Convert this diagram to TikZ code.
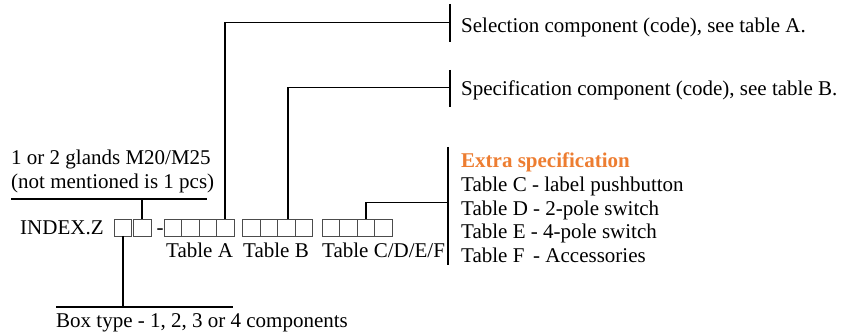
\documentclass[tikz,border=0pt]{standalone}
\usepackage{fontspec}
\setmainfont{Liberation Serif}
\definecolor{extraorange}{RGB}{237,125,49}
\begin{document}
\begin{tikzpicture}[x=1pt,y=-1pt,
  cell/.style={draw=black!70,line width=0.9pt,minimum width=17.5pt,minimum height=17pt,inner sep=0pt,outer sep=0pt},
  leader/.style={line width=1.6pt},
  rulel/.style={line width=1.4pt},
  lbl/.style={anchor=base west,inner sep=0pt,font=\fontsize{21}{23.6}\selectfont},
  title/.style={lbl,font=\fontsize{21}{23.6}\selectfont\bfseries,text=extraorange},
]
\useasboundingbox (0,0) rectangle (844,336);

% cells
\node[cell] (g1) at (122.75,227.5) {};
\node[cell] (g2) at (142.25,227.5) {};
\foreach \i/\x in {1/172.75,2/190.25,3/207.75,4/225.25}
  \node[cell] (a\i) at (\x,227.5) {};
\foreach \i/\x in {1/251.25,2/268.75,3/286.25,4/303.75}
  \node[cell] (b\i) at (\x,227.5) {};
\foreach \i/\x in {1/330.75,2/348.25,3/365.75,4/383.25}
  \node[cell] (c\i) at (\x,227.5) {};

% texts
\node[lbl] (gl1) at (11,165) {1 or 2 glands M20/M25};
\node[lbl] (gl2) at (11,189) {(not mentioned is 1 pcs)};
\node[lbl] (idx) at (20,235) {INDEX.Z};
\node[lbl] (dash) at (156.5,235) {-};
\node[lbl] (ta) at (166,258) {Table A};
\node[lbl] (tb) at (243,258) {Table B};
\node[lbl] (tc) at (322,258) {Table C/D/E/F};
\node[lbl] (bt) at (56,328) {Box type - 1, 2, 3 or 4 components};
\node[lbl] (sel) at (461,33) {Selection component (code), see table A.};
\node[lbl] (spec) at (461,96) {Specification component (code), see table B.};
\node[title] (ex0) at (461,168) {Extra specification};
\node[lbl] (ex1) at (461,191.6) {Table C - label pushbutton};
\node[lbl] (ex2) at (461,215.2) {Table D - 2-pole switch};
\node[lbl] (ex3) at (461,238.8) {Table E - 4-pole switch};
\node[lbl] (ex4) at (461,262.4) {Table F\,\ - Accessories};

% coordinates
\coordinate (glL) at (11,199);
\coordinate (glR) at (207,199);
\coordinate (btL) at (56,307);
\coordinate (btR) at (233,307);
\coordinate (selJ) at (450,22.7);
\coordinate (selT) at (450,4);
\coordinate (selB) at (450,42);
\coordinate (specJ) at (450,87.7);
\coordinate (specT) at (450,70);
\coordinate (specB) at (450,107);
\coordinate (exJ) at (448,202.5);
\coordinate (exT) at (448,147);
\coordinate (exB) at (448,265);

% rules and leaders
\draw[rulel] (glL) -- (glR);
\draw[leader] (g2.north) -- (g2.north |- glL);
\draw[rulel] (btL) -- (btR);
\draw[leader] (g1.south) -- (g1.south |- btL);

\draw[leader] (a4.north) |- (selJ);
\draw[leader] (selT) -- (selB);
\draw[leader] ([xshift=1.5pt]b3.north) |- (specJ);
\draw[leader] (specT) -- (specB);
\draw[leader] (c3.north) |- (exJ);
\draw[leader] (exT) -- (exB);
\end{tikzpicture}
\end{document}
